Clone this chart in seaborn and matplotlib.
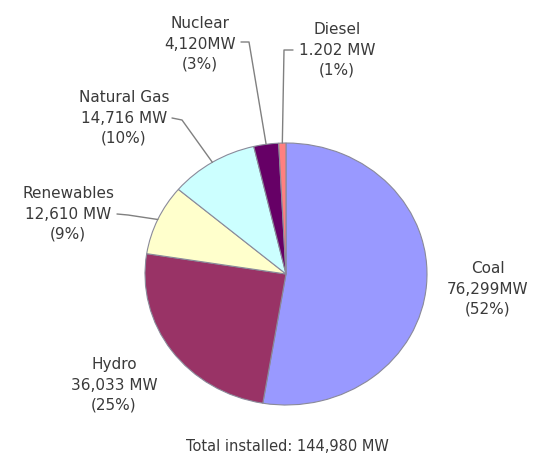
import numpy as np
import seaborn as sns
import matplotlib.pyplot as plt

# Capacidad instalada por fuente (MW)
fuentes = ['Coal', 'Hydro', 'Renewables', 'Natural Gas', 'Nuclear', 'Diesel']
capacidad_mw = [76299, 36033, 12610, 14716, 4120, 1202]
textos_mw = ['76,299MW', '36,033 MW', '12,610 MW', '14,716 MW', '4,120MW', '1.202 MW']
porcentajes = [52, 25, 9, 10, 3, 1]
colores = ['#9999ff', '#993366', '#ffffcc', '#ccffff', '#660066', '#ff8080']
total_texto = 'Total installed: 144,980 MW'

sns.set_theme(style='white')
plt.rcParams['font.family'] = ['DejaVu Sans']

W, H = 537, 461
fig = plt.figure(figsize=(W / 100, H / 100), dpi=100)
ax = fig.add_axes([0, 0, 1, 1])

# geometria del pastel en pixeles (ligeramente eliptico como la imagen)
cx, cy, rx, ry = 286, 274, 141, 131

def px(x, y):
    return (x - cx) / rx, (cy - y) / ry

wedges, _ = ax.pie(capacidad_mw, colors=colores, startangle=90, counterclock=False,
                   wedgeprops=dict(edgecolor='#8a8a9a', linewidth=0.8))
ax.set_aspect('auto')
ax.set_xlim(px(0, 0)[0], px(W, 0)[0])
ax.set_ylim(px(0, H)[1], px(0, 0)[1])
ax.axis('off')

color_txt = '#3a3a3a'
# posiciones de las etiquetas (centro del bloque de texto, pixeles)
pos_etiquetas = {
    'Coal': (488, 289),
    'Hydro': (114, 385),
    'Renewables': (68, 214),
    'Natural Gas': (124, 118),
    'Nuclear': (200, 44),
    'Diesel': (337, 50),
}
for nombre, mw, pct in zip(fuentes, textos_mw, porcentajes):
    x, y = px(*pos_etiquetas[nombre])
    ax.text(x, y, f'{nombre}\n{mw}\n({pct}%)', ha='center', va='center',
            fontsize=11, color=color_txt, linespacing=1.45)

# lineas guia: desde el texto hasta el borde de la porcion
def borde(w):
    ang = np.deg2rad((w.theta1 + w.theta2) / 2)
    return np.cos(ang), np.sin(ang)

guias = {
    'Nuclear': [(241, 42), (249, 42)],
    'Diesel': [(293, 50), (284, 50)],
    'Natural Gas': [(172, 118), (182, 120)],
    'Renewables': [(117, 214), (128, 215)],
}
for w, nombre in zip(wedges, fuentes):
    if nombre not in guias:
        continue
    pts = [px(*p) for p in guias[nombre]] + [borde(w)]
    xs, ys = zip(*pts)
    ax.plot(xs, ys, color='#808080', linewidth=1)

tx, ty = px(287, 446)
ax.text(tx, ty, total_texto, ha='center', va='center', fontsize=10.5, color=color_txt)

fig.savefig('out.png', dpi=100)
